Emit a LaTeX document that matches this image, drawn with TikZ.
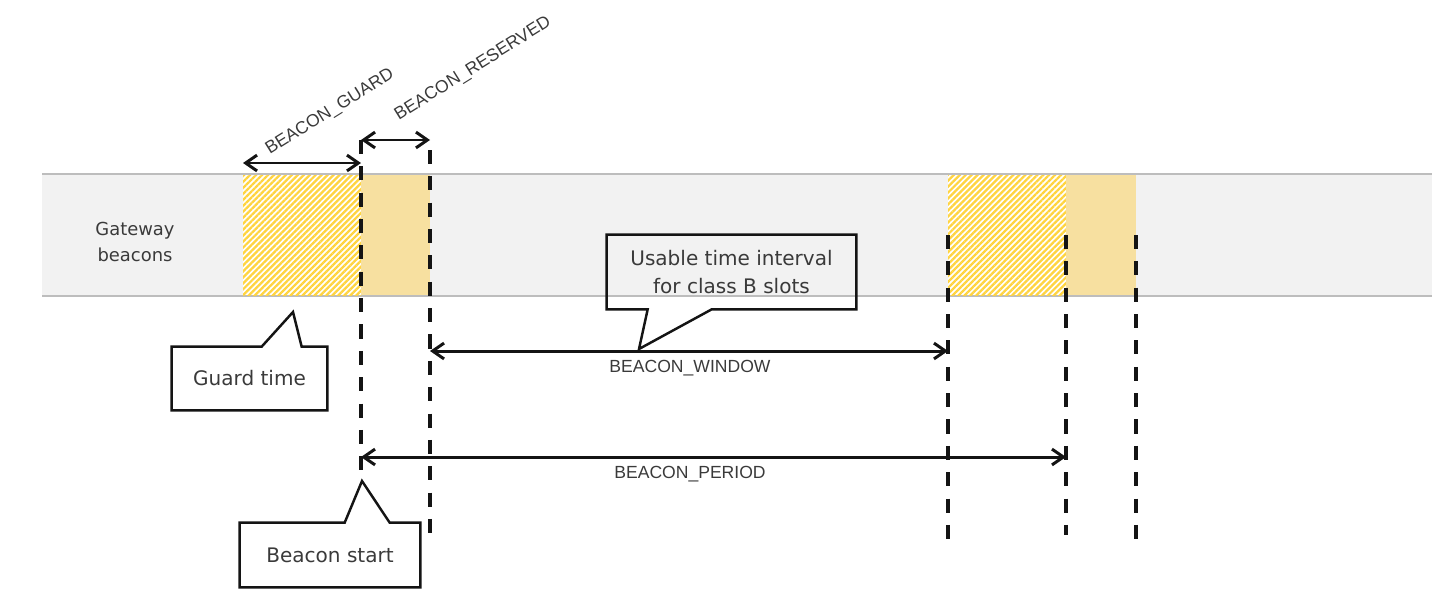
\documentclass[tikz,border=0pt]{standalone}
\usepackage{fontspec}
\setmainfont{Liberation Sans}
\newfontfamily\callfont{DejaVu Sans}
\usetikzlibrary{arrows.meta,calc,patterns.meta}
\definecolor{cband}{HTML}{F2F2F2}
\definecolor{cbandd}{HTML}{BDBDBD}
\definecolor{cslot}{HTML}{F7E0A0}
\definecolor{chatch}{HTML}{FFD440}
\definecolor{ctext}{HTML}{3A3A3A}
\definecolor{cline}{HTML}{141414}

\begin{document}
\begin{tikzpicture}[
  x=0.02cm, y=-0.02cm,
  lbl/.style={font=\fontsize{10}{12}\selectfont, text=ctext, inner sep=1pt},
  tag/.style={lbl, rotate=32},
  span/.style={{Straight Barb[length=6.5pt,width=9pt]}-{Straight Barb[length=6.5pt,width=9pt]},
               line width=1.7pt, draw=cline},
  marker/.style={line width=2pt, draw=cline, dash pattern=on 8pt off 7pt},
  hatch/.style={pattern={Lines[angle=45,distance=2.4pt,line width=1.3pt]}, pattern color=chatch},
  callout/.style={font=\callfont\fontsize{11.4}{16}\selectfont, text=ctext, align=center,
                  inner sep=0pt, minimum width=#1},
  outline/.style={line width=1.4pt, draw=cline, line join=miter},
]
\useasboundingbox (0,0) rectangle (1456,592);

% ------------------------------------------------------------ band
\fill[cband] (42,174) rectangle (1432,296);
\draw[cbandd, line width=1pt] (42,174) -- (1432,174) (42,296) -- (1432,296);
\node[font=\callfont\fontsize{10.2}{15}\selectfont, text=ctext, align=center] (gw) at (135,242)
  {Gateway\\beacons};

% ------------------------------------------------------------ beacon slots
\foreach \a/\b/\c in {243/361/430, 948/1066/1136} {
  \fill[white] (\a,175) rectangle (\b,295);
  \fill[hatch] (\a,175) rectangle (\b,295);
  \fill[cslot] (\b,175) rectangle (\c,295);
}

% ------------------------------------------------------------ markers
\foreach \x/\t/\b [count=\i] in {361/140/470, 430/150/535, 948/235/540, 1066/235/535, 1136/235/540} {
  \coordinate (top\i) at (\x,\t);
  \coordinate (bot\i) at (\x,\b);
  \draw[marker] (top\i) -- (bot\i);
}

% ------------------------------------------------------------ spans
\coordinate (guardL) at (243,163);
\draw[span] (guardL) -- (top1 |- guardL);
\node[tag] (guardTag) at (330,112) {BEACON\_GUARD};

\draw[span] (top1) -- (top2 |- top1);
\node[tag] (resTag) at (473,69) {BEACON\_RESERVED};

\coordinate (winMid) at (690,351);
\draw[span] (top2 |- winMid) -- (top3 |- winMid);
\node[lbl] (winTag) at (690,368) {BEACON\_WINDOW};

\coordinate (perMid) at (690,457);
\draw[span] (top1 |- perMid) -- (top4 |- perMid);
\node[lbl] (perTag) at (690,474) {BEACON\_PERIOD};

% ------------------------------------------------------------ callouts
\node[callout=3.1cm, minimum height=1.26cm] (guard) at (249.5,378.5) {Guard time};
\coordinate (guardTip) at (293,312);
\draw[outline] (guard.north west) -- ($(guard.north west)+(90,0)$) -- (guardTip)
  -- ($(guard.north west)+(130,0)$) -- (guard.north east) -- (guard.south east)
  -- (guard.south west) -- cycle;

\node[callout=3.6cm, minimum height=1.28cm] (start) at (330,555) {Beacon start};
\coordinate (startTip) at (362,481);
\draw[outline] (start.north west) -- ($(start.north west)+(105,0)$) -- (startTip)
  -- ($(start.north west)+(150,0)$) -- (start.north east) -- (start.south east)
  -- (start.south west) -- cycle;

\node[callout=4.98cm, minimum height=1.48cm] (usable) at (731.5,272)
  {Usable time interval\\for class B slots};
\coordinate (usableTip) at (639,349);
\draw[outline] (usable.north west) -- (usable.north east) -- (usable.south east)
  -- ($(usable.south west)+(105,0)$) -- (usableTip) -- ($(usable.south west)+(41,0)$)
  -- (usable.south west) -- cycle;
\end{tikzpicture}
\end{document}
